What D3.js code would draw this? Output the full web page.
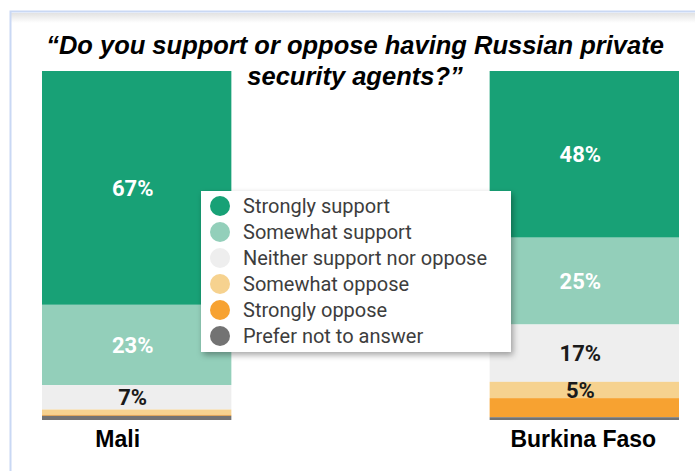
<!DOCTYPE html>
<html>
<head>
<meta charset="utf-8">
<script src="https://cdn.jsdelivr.net/npm/d3@7"></script>
<style>
  html, body { margin: 0; padding: 0; background: #fff; }
  svg { display: block; }
</style>
</head>
<body>
<div id="chart"></div>
<script>
// data
var categories = ["Mali", "Burkina Faso"];
var responses = ["Strongly support", "Somewhat support", "Neither support nor oppose",
                 "Somewhat oppose", "Strongly oppose", "Prefer not to answer"];
var maliValues = [67, 23, 7, 1.5, 0.3, 1.2];
var burkinaValues = [48, 25, 16.5, 4.7, 5.5, 0.8];
var maliLabels = ["67%", "23%", "7%", "", "", ""];
var burkinaLabels = ["48%", "25%", "17%", "5%", "", ""];
var colors = ["#18a176", "#93cfba", "#eeeeee", "#f6d28f", "#f7a231", "#737373"];
var titleLines = ["\u201cDo you support or oppose having Russian private", "security agents?\u201d"];

var width = 695, height = 471;
var margin = { top: 71, left: 42, bottom: 51, right: 16 };

var rows = categories.map(function (c, i) {
    var vals = i === 0 ? maliValues : burkinaValues;
    var r = { name: c };
    responses.forEach(function (k, j) { r[k] = vals[j]; });
    return r;
});
var labelSets = [maliLabels, burkinaLabels];

var svg = d3.select("#chart").append("svg")
    .attr("width", width)
    .attr("height", height);

var defs = svg.append("defs");
var grad = defs.append("linearGradient").attr("id", "topShade")
    .attr("x1", 0).attr("y1", 0).attr("x2", 0).attr("y2", 1);
grad.append("stop").attr("offset", 0).attr("stop-color", "#e2e2e2");
grad.append("stop").attr("offset", 1).attr("stop-color", "#ffffff");
var shadow = defs.append("filter").attr("id", "legendShadow")
    .attr("x", -0.1).attr("y", -0.1).attr("width", 1.25).attr("height", 1.3);
shadow.append("feDropShadow")
    .attr("dx", 2).attr("dy", 3).attr("stdDeviation", 3)
    .attr("flood-color", "#000").attr("flood-opacity", 0.35);

// frame
svg.append("rect")
    .attr("x", 11).attr("y", 13).attr("width", width).attr("height", 10)
    .attr("fill", "url(#topShade)");
svg.append("rect")
    .attr("x", 10.5).attr("y", 11.5).attr("width", width).attr("height", height)
    .attr("fill", "none").attr("stroke", "#c9d8f4").attr("stroke-width", 2);

var x = d3.scaleBand()
    .domain(categories)
    .range([margin.left, width - margin.right])
    .paddingInner(0.577);

var y = d3.scaleLinear()
    .domain([0, 1])
    .range([margin.top, height - margin.bottom]);

var color = d3.scaleOrdinal().domain(responses).range(colors);

var stack = d3.stack().keys(responses).offset(d3.stackOffsetExpand);
var series = stack(rows);

var layer = svg.append("g").selectAll("g")
    .data(series)
    .enter().append("g")
    .attr("fill", function (d) { return color(d.key); });

layer.selectAll("rect")
    .data(function (d) { return d; })
    .enter().append("rect")
    .attr("x", function (d) { return x(d.data.name); })
    .attr("y", function (d) { return y(d[0]); })
    .attr("width", x.bandwidth())
    .attr("height", function (d) { return y(d[1]) - y(d[0]); });

// segment labels
series.forEach(function (s, j) {
    s.forEach(function (d, i) {
        var txt = labelSets[i][j];
        if (!txt) return;
        svg.append("text")
            .attr("x", x(d.data.name) + x.bandwidth() / 2 - 4)
            .attr("y", (y(d[0]) + y(d[1])) / 2)
            .attr("dy", "0.36em")
            .attr("text-anchor", "middle")
            .attr("font-family", "Roboto, sans-serif")
            .attr("font-weight", "bold")
            .attr("font-size", 22)
            .attr("fill", j < 2 ? "#ffffff" : "#1a1a1a")
            .text(txt);
    });
});

// category labels
svg.append("g").selectAll("text")
    .data(categories)
    .enter().append("text")
    .attr("x", function (d, i) { return x(d) + x.bandwidth() / 2 - (i === 0 ? 19 : 1); })
    .attr("y", 447)
    .attr("text-anchor", "middle")
    .attr("font-family", "Liberation Sans, Arial, sans-serif")
    .attr("font-weight", "bold")
    .attr("font-size", 23)
    .attr("fill", "#000")
    .text(function (d) { return d; });

// title
svg.append("g").selectAll("text")
    .data(titleLines)
    .enter().append("text")
    .attr("x", 355)
    .attr("y", function (d, i) { return 54 + i * 31; })
    .attr("text-anchor", "middle")
    .attr("font-family", "Liberation Sans Narrow, Arial Narrow, sans-serif")
    .attr("font-style", "italic")
    .attr("font-weight", "bold")
    .attr("font-size", 25.5)
    .attr("fill", "#000")
    .text(function (d) { return d; });

// legend
var legend = svg.append("g").attr("transform", "translate(201,191)");
legend.append("rect")
    .attr("width", 310).attr("height", 161)
    .attr("fill", "#fff")
    .attr("filter", "url(#legendShadow)");
var item = legend.selectAll(".item")
    .data(responses)
    .enter().append("g")
    .attr("class", "item")
    .attr("transform", function (d, i) { return "translate(0," + (15 + i * 26) + ")"; });
item.append("circle")
    .attr("cx", 19).attr("r", 10)
    .attr("fill", function (d) { return color(d); });
item.append("text")
    .attr("x", 42)
    .attr("dy", "0.35em")
    .attr("font-family", "Roboto, sans-serif")
    .attr("font-size", 20)
    .attr("fill", "#3d3d3d")
    .text(function (d) { return d; });
</script>
</body>
</html>
